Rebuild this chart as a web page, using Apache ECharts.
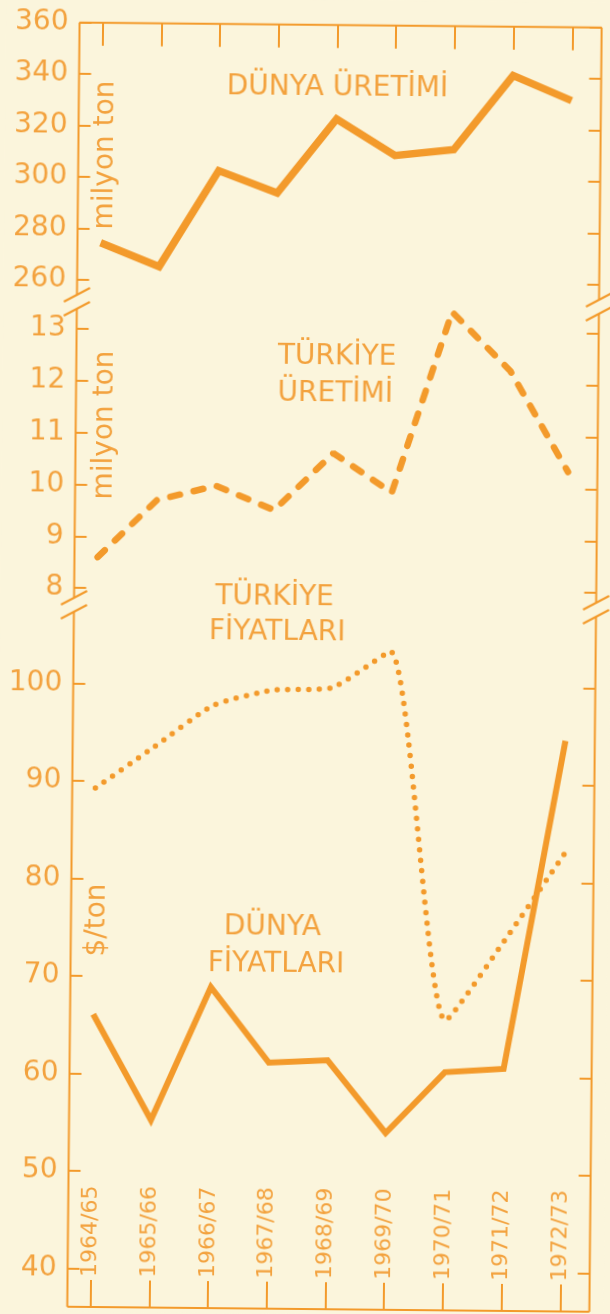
<!DOCTYPE html>
<html><head><meta charset="utf-8">
<script src="https://cdn.jsdelivr.net/npm/echarts@6/dist/echarts.min.js"></script>
<style>
html,body{margin:0;padding:0;background:#FBF5DC;overflow:hidden;}
#c{width:610px;height:1314px;transform:rotate(0.55deg);}
</style></head><body><div id="c"></div>
<script>
// ---- data ----
const categories = ['1964/65','1965/66','1966/67','1967/68','1968/69','1969/70','1970/71','1971/72','1972/73'];
const worldProduction = [274.5, 265.5, 303, 294.5, 323.5, 309.5, 312, 341, 331.5];   // milyon ton
const turkeyProduction = [8.6, 9.71, 10.0, 9.54, 10.65, 9.9, 13.4, 12.27, 10.33];    // milyon ton
const turkeyPrices = [89.3, 93.6, 97.9, 99.5, 99.8, 103.6, 65.8, 74.1, 83.0];         // $/ton
const worldPrices = [66.1, 55.3, 69.0, 61.3, 61.6, 54.2, 60.5, 60.9, 94.6];           // $/ton
const prodTicks = {min: 260, max: 360, interval: 20};
const trProdTicks = {min: 8, max: 13, interval: 1};
const priceTicks = {min: 40, max: 100, interval: 10};

// ---- styling ----
const ORANGE = '#F39A2B', TEXT = '#F3A23E', BG = '#FBF5DC';
const FONT = 'DejaVu Sans';
const L = 73.5, R = 595.6, T = 24.7, B = 1309;
const GL = 67.3;
const g = [
  {left: GL, top: T, width: R - GL, height: 257.5},
  {left: GL, top: 331.2, width: R - GL, height: 259},
  {left: GL, top: 685.7, width: R - GL, height: 585}
];
const BR1 = [297, 311], BR2 = [600, 614];

function yAxes(gi, t) {
  const base = {gridIndex: gi, type: 'value', min: t.min, max: t.max, interval: t.interval,
    splitLine: {show: false}, axisLine: {show: false}};
  return [
    Object.assign({}, base, {position: 'left', offset: -(L - GL),
      axisTick: {show: true, inside: true, length: 12, lineStyle: {color: ORANGE, width: 2}},
      axisLabel: {show: true, margin: 11, color: TEXT, fontSize: 28, fontFamily: FONT}}),
    Object.assign({}, base, {position: 'right', offset: 0,
      axisTick: {show: true, inside: true, length: 12, lineStyle: {color: ORANGE, width: 2}},
      axisLabel: {show: false}})
  ];
}

const ln = (x1, y1, x2, y2) => ({type: 'line', silent: true,
  shape: {x1, y1, x2, y2}, style: {stroke: ORANGE, lineWidth: 2}});
const slash = (x, y) => ln(x - 13, y + 7, x + 13, y - 7);
const txt = (text, x, y, align, size, rot) => ({type: 'text', x, y, rotation: rot || 0, silent: true,
  style: {text, fill: TEXT, font: size + 'px "' + FONT + '"', textAlign: align, textVerticalAlign: 'middle'}});

const frame = [
  ln(L, T, R, T), ln(L, B, R, B),
  ln(L, T, L, BR1[0]), ln(L, BR1[1], L, BR2[0]), ln(L, BR2[1], L, B),
  ln(R, T, R, BR1[0]), ln(R, BR1[1], R, BR2[0]), ln(R, BR2[1], R, B),
  slash(L, BR1[0]), slash(L, BR1[1]), slash(L, BR2[0]), slash(L, BR2[1]),
  slash(R, BR1[0]), slash(R, BR1[1]), slash(R, BR2[0]), slash(R, BR2[1])
];
const texts = [
  txt('DÜNYA ÜRETİMİ', 332, 88, 'center', 28),
  txt('milyon ton', 101, 157, 'center', 28, Math.PI / 2),
  txt('TÜRKİYE', 275, 357, 'left', 28),
  txt('ÜRETİMİ', 275, 394, 'left', 28),
  txt('milyon ton', 103, 427, 'center', 28, Math.PI / 2),
  txt('TÜRKİYE', 274, 598, 'center', 28),
  txt('FİYATLARI', 277, 633, 'center', 28),
  txt('$/ton', 100, 922, 'center', 28, Math.PI / 2),
  txt('DÜNYA', 275, 928, 'center', 28),
  txt('FİYATLARI', 279, 965, 'center', 28)
];

const chart = echarts.init(document.getElementById('c'), null, {renderer: 'canvas'});
chart.setOption({
  backgroundColor: BG,
  animation: false,
  grid: g,
  xAxis: [
    {gridIndex: 0, type: 'category', data: categories, position: 'top', boundaryGap: true,
      axisLine: {show: false},
      axisTick: {show: true, inside: true, length: 23, alignWithLabel: true, interval: 0, lineStyle: {color: ORANGE, width: 2}},
      axisLabel: {show: false}},
    {gridIndex: 1, type: 'category', data: categories, boundaryGap: true, show: false},
    {gridIndex: 2, type: 'category', data: categories, position: 'bottom', boundaryGap: true,
      offset: B - (g[2].top + g[2].height),
      axisLine: {show: false},
      axisTick: {show: true, inside: true, length: 27, alignWithLabel: true, interval: 0, lineStyle: {color: ORANGE, width: 2}},
      axisLabel: {show: true, inside: true, rotate: 90, margin: 30, interval: 0, color: TEXT, fontSize: 22, fontFamily: FONT}}
  ],
  yAxis: [].concat(yAxes(0, prodTicks), yAxes(1, trProdTicks), yAxes(2, priceTicks)),
  series: [
    {name: 'DÜNYA ÜRETİMİ', type: 'line', xAxisIndex: 0, yAxisIndex: 0, data: worldProduction,
      symbol: 'none', clip: false, lineStyle: {color: ORANGE, width: 7.5, join: 'miter'}},
    {name: 'TÜRKİYE ÜRETİMİ', type: 'line', xAxisIndex: 1, yAxisIndex: 2, data: turkeyProduction,
      symbol: 'none', clip: false, lineStyle: {color: ORANGE, width: 6.5, type: [10, 14], cap: 'round'}},
    {name: 'TÜRKİYE FİYATLARI', type: 'line', xAxisIndex: 2, yAxisIndex: 4, data: turkeyPrices,
      symbol: 'none', clip: false, smooth: 0.2, lineStyle: {color: ORANGE, width: 5.5, type: [0, 10.5], cap: 'round'}},
    {name: 'DÜNYA FİYATLARI', type: 'line', xAxisIndex: 2, yAxisIndex: 4, data: worldPrices,
      symbol: 'none', clip: false, lineStyle: {color: ORANGE, width: 6, join: 'miter'}}
  ],
  graphic: frame.concat(texts)
});
</script></body></html>
